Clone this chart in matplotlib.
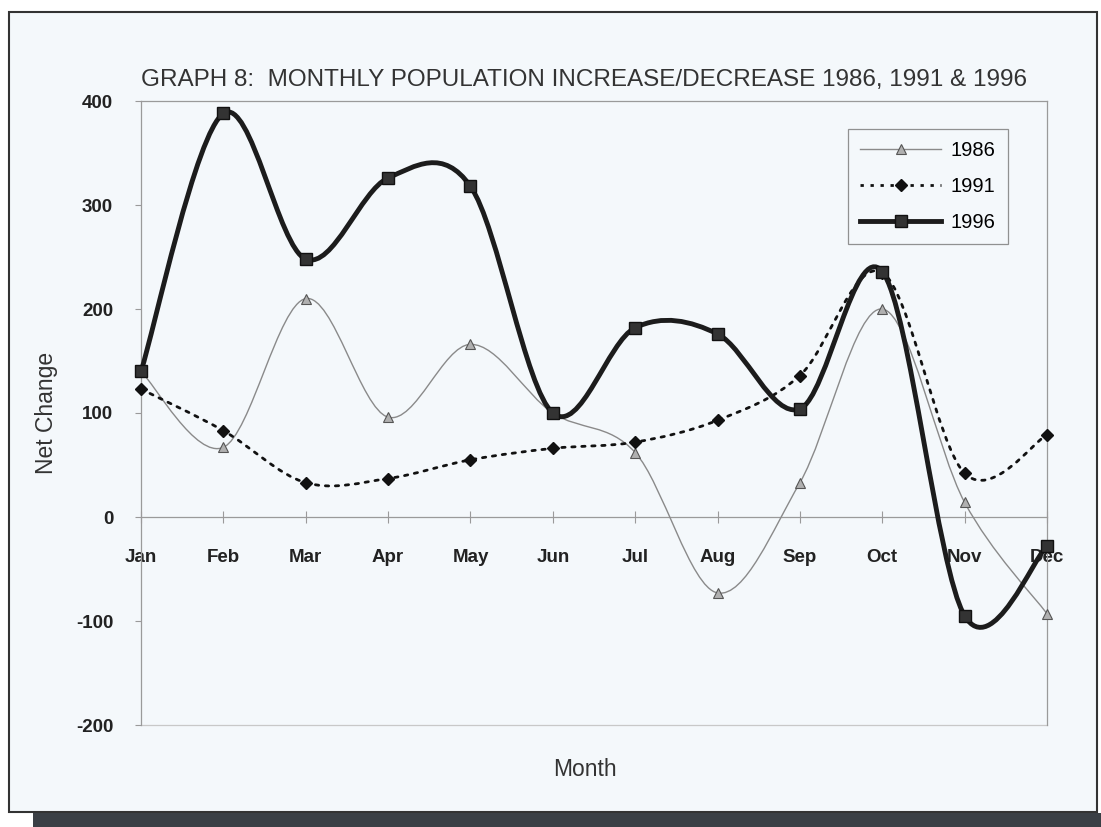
import numpy as np
import matplotlib
matplotlib.use("Agg")
import matplotlib.pyplot as plt
from matplotlib.path import Path
from matplotlib.patches import PathPatch, Rectangle
from matplotlib.lines import Line2D

plt.rcParams['font.family'] = ['Liberation Sans', 'DejaVu Sans']

months = ['Jan', 'Feb', 'Mar', 'Apr', 'May', 'Jun',
          'Jul', 'Aug', 'Sep', 'Oct', 'Nov', 'Dec']
y1986 = [140, 67, 210, 96, 166, 100, 62, -73, 33, 200, 14, -93]
y1991 = [123, 83, 33, 37, 55, 66, 72, 93, 136, 235, 42, 79]
y1996 = [140, 388, 248, 326, 318, 100, 182, 176, 104, 236, -95, -28]
y_ticks = [-200, -100, 0, 100, 200, 300, 400]


def smooth_path(xs, ys):
    # Excel-like smoothed line: Catmull-Rom spline as cubic Bezier segments
    pts = np.column_stack([xs, ys]).astype(float)
    ext = np.vstack([pts[0], pts, pts[-1]])
    verts = [pts[0]]
    codes = [Path.MOVETO]
    for i in range(len(pts) - 1):
        p0, p1, p2, p3 = ext[i], ext[i + 1], ext[i + 2], ext[i + 3]
        c1 = p1 + (p2 - p0) / 6.0
        c2 = p2 - (p3 - p1) / 6.0
        verts += [c1, c2, p2]
        codes += [Path.CURVE4] * 3
    return Path(verts, codes)


bg = '#f4f8fb'
fig = plt.figure(figsize=(11.01, 8.27), dpi=100)
fig.patch.set_facecolor('white')
# outer chart frame
fig.patches.append(Rectangle((9 / 1101, 1 - 812 / 827), 1088 / 1101, 800 / 827,
                             transform=fig.transFigure, facecolor=bg,
                             edgecolor='#333333', lw=1.5, zorder=-2))
# dark scan strip at the bottom
fig.patches.append(Rectangle((0.03, 0), 0.97, 14 / 827, transform=fig.transFigure,
                             facecolor='#3a3f45', edgecolor='none', zorder=-2))

ax = fig.add_axes([141 / 1101, 1 - 725 / 827, 906 / 1101, 624 / 827])
ax.set_facecolor(bg)
for s in ['left', 'top', 'right', 'bottom']:
    ax.spines[s].set_color('#9a9a9a')
    ax.spines[s].set_linewidth(0.9)
ax.spines['bottom'].set_position(('data', 0))

x = np.arange(len(months))

series = [
    (y1986, dict(color='#8a8a8a', lw=1.0, ls='-'),
     dict(marker='^', ms=7, mfc='#b0b0b0', mec='#555555', mew=0.8), '1986'),
    (y1991, dict(color='#111111', lw=2.0, ls=(0, (1.2, 2.4))),
     dict(marker='D', ms=6, mfc='#111111', mec='#111111'), '1991'),
    (y1996, dict(color='#1c1c1c', lw=3.5, ls='-'),
     dict(marker='s', ms=8, mfc='#333333', mec='#111111'), '1996'),
]

handles = []
for ys, lstyle, mstyle, label in series:
    patch = PathPatch(smooth_path(x, ys), facecolor='none', edgecolor=lstyle['color'],
                      lw=lstyle['lw'], ls=lstyle['ls'], capstyle='round',
                      joinstyle='round', zorder=3, clip_on=False)
    ax.add_patch(patch)
    ax.plot(x, ys, ls='none', zorder=4, clip_on=False, **mstyle)
    handles.append(Line2D([], [], color=lstyle['color'], lw=lstyle['lw'],
                          ls=lstyle['ls'], label=label, **mstyle))

ax.set_xlim(0, len(months) - 1)
ax.set_ylim(-200, 400)
ax.set_yticks(y_ticks)
ax.set_yticklabels([str(v) for v in y_ticks], fontsize=13.5, fontweight='bold')
ax.set_xticks(x)
ax.set_xticklabels(months, fontsize=13.5, fontweight='bold')

ax.plot([0, len(months) - 1], [-200, -200], color='#c8c8c8', lw=0.9, clip_on=False, zorder=1)

ax.tick_params(axis='x', direction='inout', length=8, color='#9a9a9a', pad=19,
               labelcolor='#222222')
ax.tick_params(axis='y', direction='out', length=4, color='#9a9a9a', pad=16,
               labelcolor='#222222')

ax.set_xlabel('Month', fontsize=16.5, color='#333333')
ax.xaxis.set_label_coords(0.49, -0.053)
ax.set_ylabel('Net Change', fontsize=16.5, color='#333333')
ax.yaxis.set_label_coords(-0.092, 0.5)

fig.text(584 / 1101, 1 - 80 / 827, 'GRAPH 8:  MONTHLY POPULATION INCREASE/DECREASE 1986, 1991 & 1996',
         ha='center', va='center', fontsize=17.5, color='#333333')

leg = ax.legend(handles=handles, loc='upper right', bbox_to_anchor=(0.968, 0.972),
                fontsize=14.5, frameon=True, fancybox=False, handlelength=4.0,
                labelspacing=0.85, borderpad=0.6, handletextpad=0.5)
leg.get_frame().set_edgecolor('#777777')
leg.get_frame().set_facecolor(bg)
leg.get_frame().set_linewidth(0.9)

fig.savefig('out.png', dpi=100, facecolor=fig.get_facecolor())
